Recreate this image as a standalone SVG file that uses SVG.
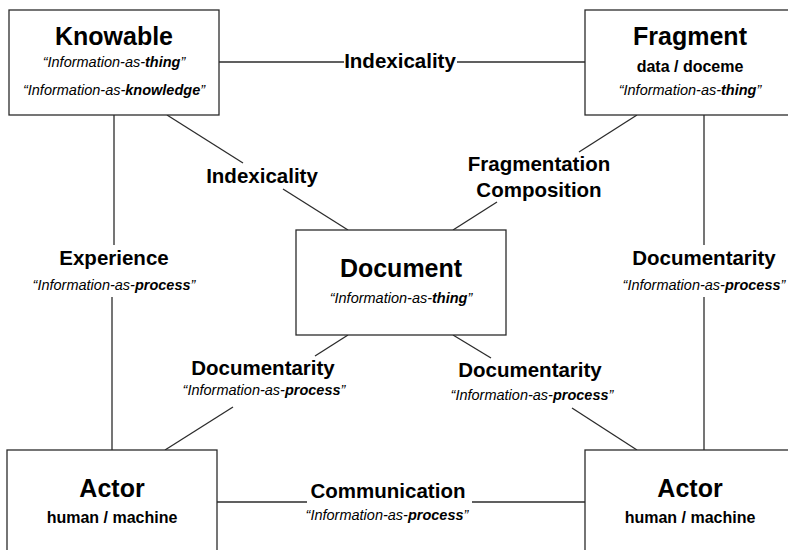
<svg xmlns="http://www.w3.org/2000/svg" width="788" height="550" viewBox="0 0 788 550">
<style>
  .box { fill: #ffffff; stroke: #2b2b2b; stroke-width: 1.3; }
  .edge { stroke: #2b2b2b; stroke-width: 1.3; fill: none; }
  text { font-family: "Liberation Sans", Arial, Helvetica, sans-serif; fill: #000; text-anchor: middle; }
  .title { font-size: 25px; font-weight: bold; }
  .sub { font-size: 16px; font-weight: bold; }
  .lab { font-size: 20.5px; font-weight: bold; }
  .it { font-size: 14.5px; font-style: italic; }
  .b { font-weight: bold; }
</style>
<rect width="788" height="550" fill="#ffffff"/>
<g id="connectors">
  <line class="edge" x1="219" y1="62" x2="344" y2="62"/>
  <line class="edge" x1="457" y1="62" x2="585" y2="62"/>
  <line class="edge" x1="167" y1="115" x2="243" y2="163"/>
  <line class="edge" x1="283" y1="189" x2="348" y2="230"/>
  <line class="edge" x1="637" y1="115" x2="579" y2="152"/>
  <line class="edge" x1="497" y1="202" x2="453" y2="230"/>
  <line class="edge" x1="114" y1="115" x2="114" y2="245"/>
  <line class="edge" x1="112" y1="297" x2="112" y2="450"/>
  <line class="edge" x1="704" y1="115" x2="704" y2="245"/>
  <line class="edge" x1="704" y1="297" x2="704" y2="450"/>
  <line class="edge" x1="348" y1="335" x2="315" y2="356"/>
  <line class="edge" x1="233" y1="407" x2="165" y2="450"/>
  <line class="edge" x1="453" y1="335" x2="491" y2="358"/>
  <line class="edge" x1="572" y1="408" x2="637" y2="450"/>
  <line class="edge" x1="217" y1="502" x2="307" y2="502"/>
  <line class="edge" x1="472" y1="502" x2="585" y2="502"/>
  <text class="lab" x="400" y="68">Indexicality</text>
  <text class="lab" x="262" y="183">Indexicality</text>
  <text class="lab" x="539" y="171">Fragmentation</text>
  <text class="lab" x="539" y="197">Composition</text>
  <text class="lab" x="114" y="265">Experience</text>
  <text class="it" x="114" y="290">“Information-as-<tspan class="b">process</tspan>”</text>
  <text class="lab" x="704" y="265">Documentarity</text>
  <text class="it" x="704" y="290">“Information-as-<tspan class="b">process</tspan>”</text>
  <text class="lab" x="263" y="375">Documentarity</text>
  <text class="it" x="264" y="395">“Information-as-<tspan class="b">process</tspan>”</text>
  <text class="lab" x="530" y="377">Documentarity</text>
  <text class="it" x="532" y="400">“Information-as-<tspan class="b">process</tspan>”</text>
  <text class="lab" x="388" y="498">Communication</text>
  <text class="it" x="387" y="520">“Information-as-<tspan class="b">process</tspan>”</text>
</g>
<g id="knowable">
  <rect class="box" x="9" y="10" width="210" height="105"/>
  <text class="title" x="114" y="45">Knowable</text>
  <text class="it" x="114" y="67">“Information-as-<tspan class="b">thing</tspan>”</text>
  <text class="it" x="114" y="95">“Information-as-<tspan class="b">knowledge</tspan>”</text>
</g>
<g id="fragment">
  <rect class="box" x="585" y="10" width="215" height="105"/>
  <text class="title" x="690" y="45">Fragment</text>
  <text class="sub" x="690" y="72">data / doceme</text>
  <text class="it" x="690" y="95">“Information-as-<tspan class="b">thing</tspan>”</text>
</g>
<g id="document">
  <rect class="box" x="296" y="230" width="210" height="105"/>
  <text class="title" x="401" y="277">Document</text>
  <text class="it" x="401" y="303">“Information-as-<tspan class="b">thing</tspan>”</text>
</g>
<g id="actor-left">
  <rect class="box" x="7" y="450" width="210" height="110"/>
  <text class="title" x="112" y="497">Actor</text>
  <text class="sub" x="112" y="523">human / machine</text>
</g>
<g id="actor-right">
  <rect class="box" x="585" y="450" width="215" height="110"/>
  <text class="title" x="690" y="497">Actor</text>
  <text class="sub" x="690" y="523">human / machine</text>
</g>
</svg>
